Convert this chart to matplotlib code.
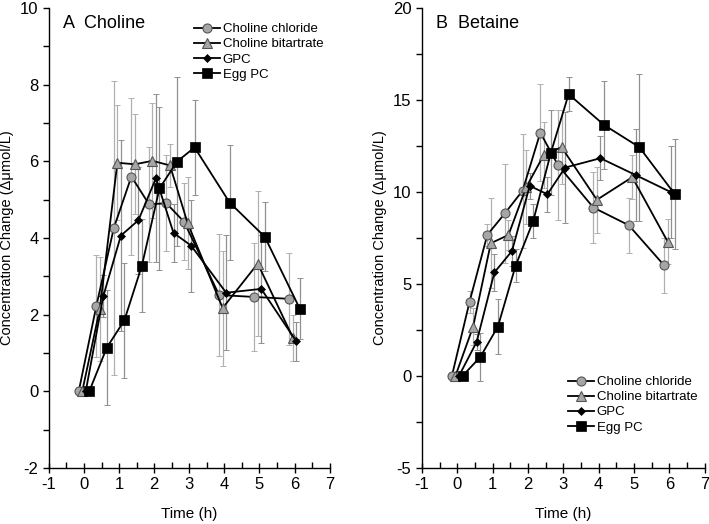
import numpy as np
import matplotlib
matplotlib.use('Agg')
import matplotlib.pyplot as plt
from matplotlib.ticker import MultipleLocator

plt.rcParams['font.family'] = ['Liberation Sans', 'DejaVu Sans']
plt.rcParams['axes.unicode_minus'] = False

# sampling times (h); each series is nudged sideways so the points do not overlap
times = np.array([0, 0.5, 1, 1.5, 2, 2.5, 3, 4, 5, 6])
series_names = ['Choline chloride', 'Choline bitartrate', 'GPC', 'Egg PC']

# A: plasma choline change
cc_a = [0, 2.22, 4.26, 5.60, 4.88, 4.90, 4.42, 2.51, 2.46, 2.41]
cc_a_err = [0, 1.33, 3.84, 2.05, 1.5, 1.25, 1.0, 1.6, 1.4, 1.2]
cb_a = [0, 2.15, 5.96, 5.92, 6.01, 5.89, 4.39, 2.17, 3.33, 1.40]
cb_a_err = [0, 1.35, 1.5, 1.3, 1.5, 0.55, 1.2, 1.5, 1.9, 0.6]
gpc_a = [0, 2.48, 4.06, 4.46, 5.56, 4.13, 3.80, 2.57, 2.67, 1.30]
gpc_a_err = [0, 0.55, 2.5, 1.4, 2.2, 0.75, 1.2, 1.5, 1.4, 0.5]
egg_a = [0, 1.14, 1.85, 3.28, 5.29, 5.99, 6.36, 4.92, 4.03, 2.15]
egg_a_err = [0, 1.5, 1.5, 1.2, 2.13, 2.2, 1.24, 1.5, 0.9, 0.8]

# B: plasma betaine change
cc_b = [0, 4.04, 7.66, 8.84, 10.07, 13.22, 11.45, 9.15, 8.19, 6.01]
cc_b_err = [0, 0.6, 0.6, 2.7, 3.1, 2.65, 3.0, 1.95, 1.5, 1.5]
cb_b = [0, 2.68, 7.21, 7.66, 10.25, 12.01, 12.43, 9.57, 10.8, 7.3]
cb_b_err = [0, 1.0, 2.45, 0.8, 2.0, 1.8, 2.0, 1.8, 1.2, 1.2]
gpc_b = [0, 1.85, 5.62, 6.79, 10.33, 9.87, 11.32, 11.83, 10.91, 9.98]
gpc_b_err = [0, 0.45, 1.0, 0.8, 0.7, 0.95, 3.0, 1.2, 2.5, 2.5]
egg_b = [0, 1.02, 2.68, 5.98, 8.42, 12.14, 15.31, 13.64, 12.43, 9.88]
egg_b_err = [0, 1.3, 1.5, 0.9, 0.9, 2.3, 0.92, 2.4, 4.0, 3.0]

offsets = [-0.15, -0.05, 0.05, 0.15]
styles = [
    dict(marker='o', ms=6.5, mfc='#a6a6a6', mec='#555555', mew=0.8),
    dict(marker='^', ms=6.5, mfc='#a6a6a6', mec='#555555', mew=0.8),
    dict(marker='D', ms=4.5, mfc='black', mec='black', mew=0.5),
    dict(marker='s', ms=7, mfc='black', mec='black', mew=0.5),
]
err_colors = ['#b0b0b0', '#b0b0b0', '#909090', '#909090']


def draw_panel(ax, values, errors, title, ylim, ymajor, yminor, legend_xy):
    for i in range(4):
        x = times + offsets[i]
        ax.errorbar(x, values[i], yerr=errors[i], fmt='none', ecolor=err_colors[i],
                    elinewidth=0.9, capsize=2, capthick=0.7, zorder=1)
    for i in range(4):
        x = times + offsets[i]
        ax.plot(x, values[i], color='black', lw=1.3, label=series_names[i],
                zorder=3 + i, **styles[i])

    ax.set_xlim(-1, 7)
    ax.set_ylim(*ylim)
    ax.xaxis.set_major_locator(MultipleLocator(1))
    ax.xaxis.set_minor_locator(MultipleLocator(0.5))
    ax.yaxis.set_major_locator(MultipleLocator(ymajor))
    ax.yaxis.set_minor_locator(MultipleLocator(yminor))
    ax.spines['top'].set_visible(False)
    ax.spines['right'].set_visible(False)
    ax.spines['left'].set_linewidth(1.0)
    ax.spines['bottom'].set_linewidth(1.0)
    ax.tick_params(axis='x', which='major', direction='inout', length=7, width=1, labelsize=12, pad=3)
    ax.tick_params(axis='x', which='minor', direction='in', length=4, width=1)
    ax.tick_params(axis='y', which='major', direction='out', length=4, width=1, labelsize=12)
    ax.tick_params(axis='y', which='minor', direction='out', length=4, width=1)
    ax.set_xlabel('Time (h)', fontsize=11, labelpad=11)
    ax.set_ylabel('Concentration Change (\u0394\u03bcmol/L)', fontsize=10.5, labelpad=4)
    ax.text(0.05, 0.985, title, transform=ax.transAxes, fontsize=13, va='top', ha='left')

    ax.legend(loc='upper left', bbox_to_anchor=legend_xy, frameon=False, fontsize=9.5,
              handlelength=2.0, handletextpad=0.2, labelspacing=0.22, borderpad=0,
              borderaxespad=0)


fig = plt.figure(figsize=(7.09, 5.24), dpi=100)
ax_a = fig.add_axes([0.069, 0.107, 0.396, 0.878])
ax_b = fig.add_axes([0.595, 0.107, 0.399, 0.878])

draw_panel(ax_a, [cc_a, cb_a, gpc_a, egg_a], [cc_a_err, cb_a_err, gpc_a_err, egg_a_err],
           'A  Choline', (-2, 10), 2, 1, (0.515, 0.967))
draw_panel(ax_b, [cc_b, cb_b, gpc_b, egg_b], [cc_b_err, cb_b_err, gpc_b_err, egg_b_err],
           'B  Betaine', (-5, 20), 5, 2.5, (0.515, 0.2))

fig.savefig('out.png', dpi=100)
